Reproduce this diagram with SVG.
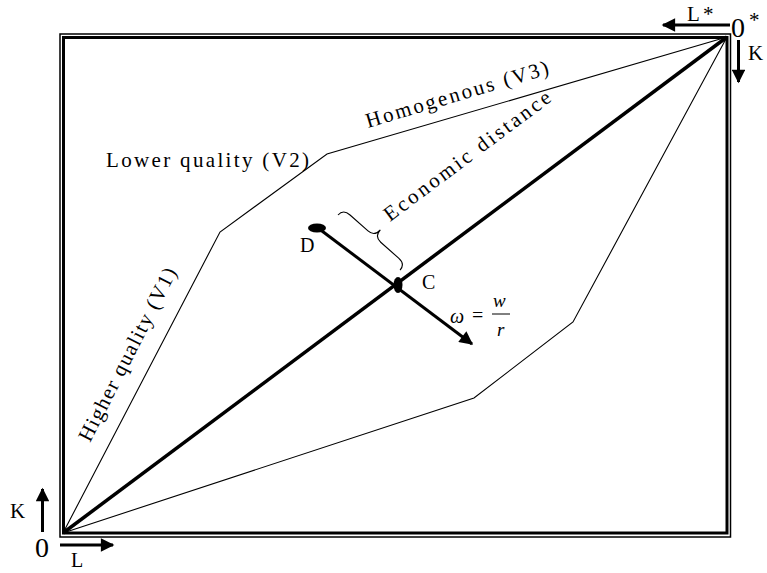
<svg xmlns="http://www.w3.org/2000/svg" width="767" height="573" viewBox="0 0 767 573">
<style>
text{font-family:"Liberation Serif","Times New Roman",serif;fill:#000}
.lbl{font-size:21px}
.pt{font-size:20px}
.ax{font-size:21px}
.big{font-size:28px}
.thin{fill:none;stroke:#000;stroke-width:1.1}
.ar{stroke:#000;stroke-width:3;fill:none}
</style>
<defs>
<marker id="ah" viewBox="0 0 10 10" refX="9" refY="5" markerWidth="5" markerHeight="4.5" orient="auto" markerUnits="strokeWidth">
<path d="M0,0 L10,5 L0,10 Z" fill="#000"/>
</marker>
</defs>
<rect width="767" height="573" fill="#fff"/>
<g id="frame">
<rect x="60" y="34" width="670.5" height="503" fill="none" stroke="#000" stroke-width="1.5"/>
<rect x="63.5" y="37.5" width="663.5" height="495.5" fill="none" stroke="#000" stroke-width="3"/>
</g>
<g id="connectors">
<polyline id="upper" class="thin" points="63,533 220,232 327,154 727,37"/>
<polyline id="lower" class="thin" points="63,533 474,398 573,322 727,37"/>
<line id="diagonal" x1="63" y1="533" x2="727" y2="37" stroke="#000" stroke-width="3.5"/>
<line id="dc" x1="318" y1="228" x2="472" y2="344" class="ar" marker-end="url(#ah)"/>
<path id="brace" class="thin" transform="translate(338,215) rotate(41.6)" d="M0,0 Q0,-8 9,-8 L33,-8 Q41.5,-8 41.5,-17 Q41.5,-8 50,-8 L74,-8 Q83,-8 83,0"/>
<line id="axK1" x1="42.5" y1="532" x2="42.5" y2="489" class="ar" marker-end="url(#ah)"/>
<line id="axL1" x1="60" y1="545" x2="113" y2="545" class="ar" marker-end="url(#ah)"/>
<line id="axL2" x1="730" y1="25" x2="663" y2="25" class="ar" marker-end="url(#ah)"/>
<line id="axK2" x1="738.5" y1="40" x2="738.5" y2="82" class="ar" marker-end="url(#ah)"/>
</g>
<g id="pointD"><ellipse cx="317" cy="228" rx="9" ry="4.5" fill="#000"/><text class="pt" x="300" y="252">D</text></g>
<g id="pointC"><ellipse cx="398" cy="285" rx="4.5" ry="8" fill="#000"/><text class="pt" x="422" y="289">C</text></g>
<g id="labels">
<text class="lbl" x="106" y="167" textLength="203" lengthAdjust="spacing">Lower quality (V2)</text>
<text class="lbl" transform="translate(368,128) rotate(-16.6)" textLength="190" lengthAdjust="spacing">Homogenous (V3)</text>
<text class="lbl" transform="translate(390,222) rotate(-36.8)" textLength="203" lengthAdjust="spacing">Economic distance</text>
<text class="lbl" transform="translate(90,443) rotate(-63)" textLength="192" lengthAdjust="spacing">Higher quality (V1)</text>
</g>
<g id="formula">
<text font-size="20" font-style="italic" x="450" y="323">ω</text>
<text font-size="20" x="472" y="322">=</text>
<line x1="492" y1="314" x2="510" y2="314" stroke="#000" stroke-width="1"/>
<text font-size="19" font-style="italic" x="493" y="307">w</text>
<text font-size="19" font-style="italic" x="497" y="336">r</text>
</g>
<g id="axes">
<text class="big" x="731" y="37">0</text>
<text class="ax" x="749" y="27">*</text>
<text class="ax" x="687" y="21">L</text>
<text class="ax" x="703" y="21">*</text>
<text class="ax" x="748" y="60">K</text>
<text class="ax" x="10" y="518">K</text>
<text class="big" x="35" y="557">0</text>
<text class="pt" x="71" y="567">L</text>
</g>
</svg>
